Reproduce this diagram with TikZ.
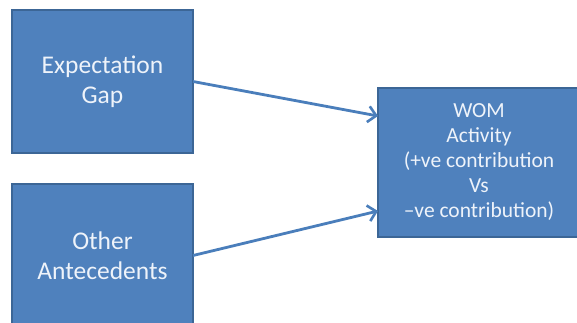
\documentclass[tikz,border=0pt]{standalone}
\usepackage{fontspec}
\setmainfont{Carlito}
\usetikzlibrary{arrows.meta}
\definecolor{boxfill}{HTML}{4F81BD}
\definecolor{boxline}{HTML}{3C6696}
\definecolor{linkcol}{HTML}{4A7EBB}
\definecolor{labelcol}{HTML}{EEF3FA}
\tikzset{
  block/.style={draw=boxline, line width=1.2pt, fill=boxfill, inner sep=0pt,
    outer sep=0pt, align=center, text=labelcol},
  bigblock/.style={block, minimum width=181pt, minimum height=143pt,
    font=\fontsize{25.5}{30}\selectfont},
  wideblock/.style={block, minimum width=202pt, minimum height=149pt,
    font=\fontsize{21.5}{25}\selectfont},
  link/.style={draw=linkcol, line width=2.8pt,
    -{Straight Barb[length=8pt, width=16pt, line width=2.6pt]}}
}
\begin{document}
\begin{tikzpicture}[x=1pt, y=-1pt]
  \useasboundingbox (0,0) rectangle (577,322);
  \begin{scope}
    \clip (0,0) rectangle (577,322);
    \node[bigblock] (gap) at (102.5,81.5) {Expectation\\Gap};
    \node[bigblock] (other) at (102.5,255.5) {Other\\Antecedents};
    \node[wideblock] (wom) at (479,162.5)
      {WOM\\Activity\\(+ve contribution\\Vs\\–ve contribution)};
    \draw[link] (gap.east) -- ([yshift=46.5pt]wom.west);
    \draw[link] (other.east) -- ([yshift=-48.5pt]wom.west);
  \end{scope}
\end{tikzpicture}
\end{document}
